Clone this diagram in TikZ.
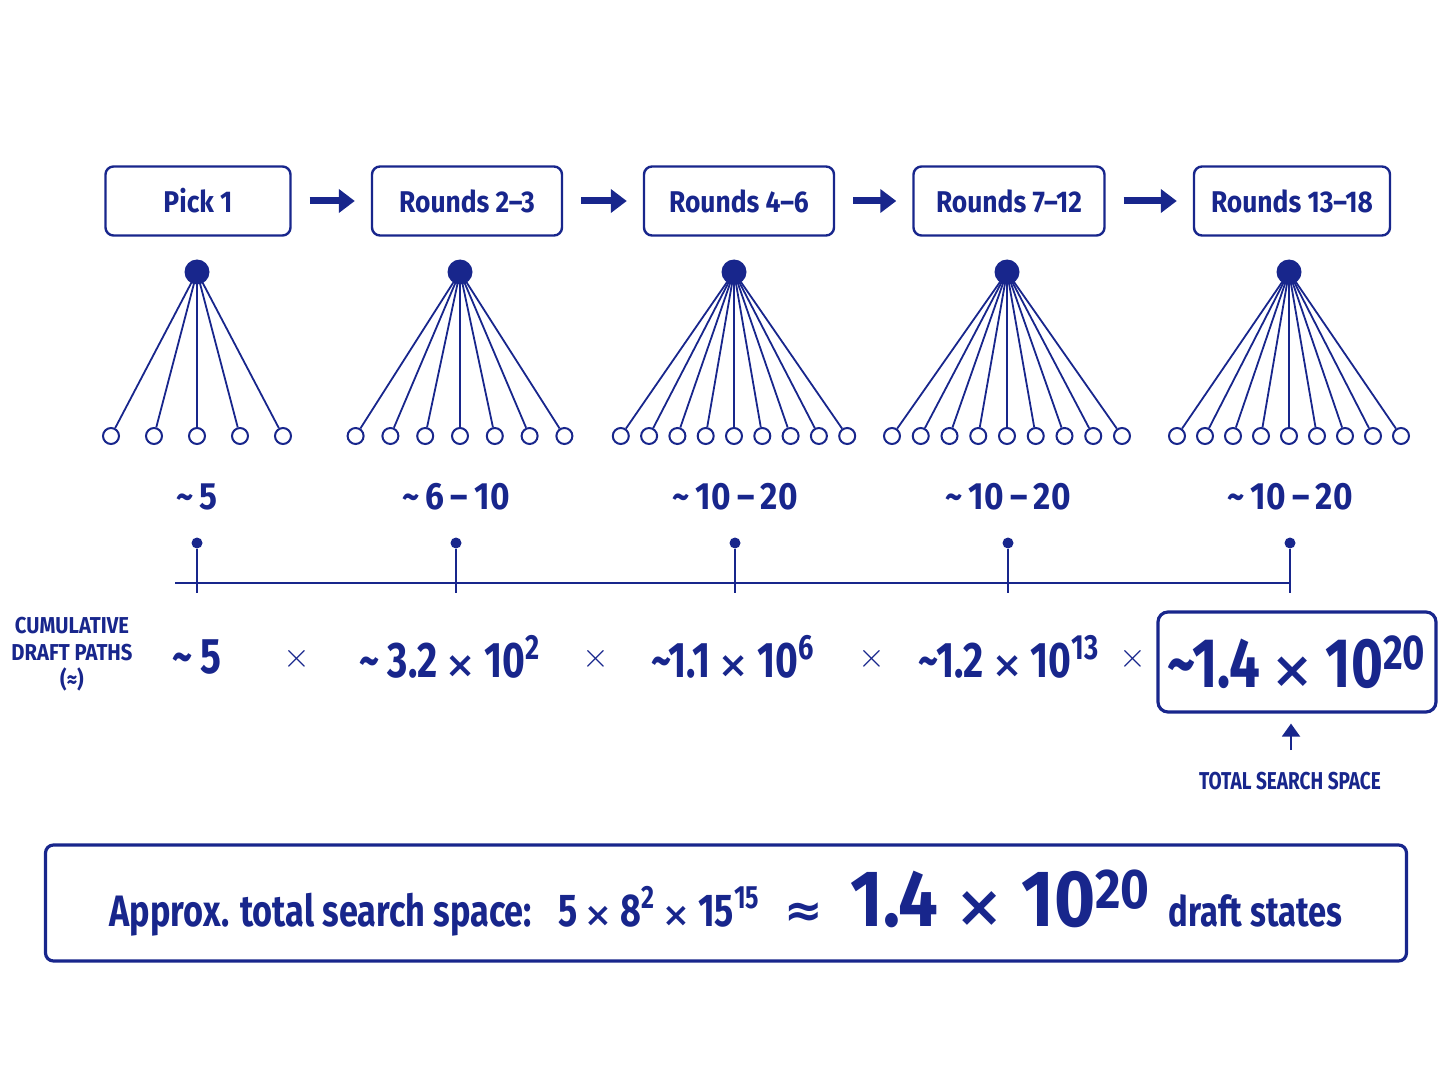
\documentclass[tikz,border=0pt]{standalone}
\usepackage{fontspec}
\setmainfont{Fira Sans}[FakeStretch=0.78]
\newfontfamily\wide{Fira Sans}[FakeStretch=0.88]
\newfontfamily\dejavu{DejaVu Sans}
\usetikzlibrary{arrows.meta,positioning}
\definecolor{navy}{RGB}{24,38,140}
\newcommand\up[1]{\textsuperscript{#1}}
\newcommand\tm{\,{\dejavu\scalebox{0.72}{×}}\,}
\tikzset{
  stage/.style={draw=navy, line width=1.2pt, rounded corners=4pt, minimum height=34.5pt, text=navy, font=\wide\bfseries\fontsize{15}{18}\selectfont},
  flow/.style={navy, line width=3.5pt, -{Triangle[length=8pt,width=11.5pt]}, shorten <=9pt, shorten >=8pt},
  root/.style={circle, fill=navy, inner sep=0pt, minimum size=12.5pt},
  leaf/.style={circle, draw=navy, fill=white, line width=1pt, inner sep=0pt, minimum size=8pt},
  branch/.style={navy, line width=0.9pt},
  count/.style={text=navy, font=\wide\bfseries\fontsize{19}{22}\selectfont},
  pindot/.style={circle, fill=navy, inner sep=0pt, minimum size=5.5pt},
  axis/.style={navy, line width=0.9pt},
  cum/.style={text=navy, font=\bfseries\fontsize{25}{28}\selectfont},
  times/.style={text=navy, font=\fontsize{19}{22}\selectfont},
  caps/.style={text=navy, align=center, font=\wide\bfseries\fontsize{11.5}{13.5}\selectfont},
}
\begin{document}
\begin{tikzpicture}[x=0.5pt,y=-0.5pt]
\useasboundingbox (0,0) rectangle (1448,1086);
% stage boxes
\node[stage, minimum width=92.5pt] (b1) at (198,201) {Pick 1};
\node[stage, minimum width=95pt] (b2) at (467,201) {Rounds 2–3};
\node[stage, minimum width=95pt] (b3) at (739,201) {Rounds 4–6};
\node[stage, minimum width=95.5pt] (b4) at (1009,201) {Rounds 7–12};
\node[stage, minimum width=98pt] (b5) at (1292,201) {Rounds 13–18};
\foreach \a/\b in {b1/b2,b2/b3,b3/b4,b4/b5}
  \draw[flow] (\a) -- (\b);
% trees
\foreach \cx/\n/\w [count=\i] in {197/5/43, 460/7/34.8, 734/9/28.3, 1007/9/28.75, 1289/9/28}{
  \node[root] (r\i) at (\cx,272) {};
  \foreach \k in {1,...,\n}{
    \node[leaf] (l\i-\k) at ({\cx+(\k-(\n+1)/2)*\w},436) {};
    \draw[branch] (r\i.center) -- (l\i-\k);
  }
}
% branching counts and pins
\foreach \cx/\t [count=\i] in {197/5, 456/6\,–\,10, 735/10\,–\,20, 1008/10\,–\,20, 1290/10\,–\,20}{
  \node[count] (n\i) at (\cx,497) {\textasciitilde\,\t};
  \node[pindot] (d\i) at (\cx,543) {};
  \coordinate (s\i) at (\cx,593);
  \draw[axis] (d\i) -- (s\i);
}
\coordinate (ax) at (175,583);
\draw[axis] (ax) -- (ax -| d5);
% cumulative paths
\node[caps] (lab) at (72,654) {CUMULATIVE\\DRAFT PATHS\\(≈)};
\node[cum] (c1) at (197,657) {\textasciitilde\,5};
\node[times] (m1) at (297,659) {$\times$};
\node[cum] (c2) at (450,657) {\textasciitilde\,3.2\tm10\up{2}};
\node[times] (m2) at (596,659) {$\times$};
\node[cum] (c3) at (733,657) {\textasciitilde1.1\tm10\up{6}};
\node[times] (m3) at (872,659) {$\times$};
\node[cum] (c4) at (1009,657) {\textasciitilde1.2\tm10\up{13}};
\node[times] (m4) at (1133,659) {$\times$};
\node[draw=navy, line width=1.6pt, rounded corners=5pt, minimum width=139pt, minimum height=50pt, text=navy, font=\bfseries\fontsize{35}{40}\selectfont] (tot) at (1297,662) {\textasciitilde1.4\tm10\up{20}};
\coordinate (arr) at (1291,750);
\draw[navy, line width=1pt, -{Triangle[length=6.5pt,width=9pt]}, shorten >=5pt] (arr) -- (arr |- tot.south);
\node[text=navy, font=\bfseries\fontsize{12.2}{15}\selectfont] (tss) at (1290,781) {TOTAL SEARCH SPACE};
% summary
\node[draw=navy, line width=1.6pt, rounded corners=4pt, minimum width=680.5pt, minimum height=58pt, text=navy, font=\bfseries] (sum) at (726,903)
  {{\fontsize{22}{26}\selectfont Approx. total search space:}\hspace{13pt}{\fontsize{23}{26}\selectfont 5\tm8\up{2}\tm15\up{15}\hspace{12pt}{\dejavu ≈}\hspace{14pt}}{\wide\fontsize{40}{44}\selectfont 1.4\hspace{2pt}\tm\hspace{2pt}10\up{20}}\hspace{9pt}{\fontsize{21}{24}\selectfont draft states}};
\end{tikzpicture}
\end{document}
